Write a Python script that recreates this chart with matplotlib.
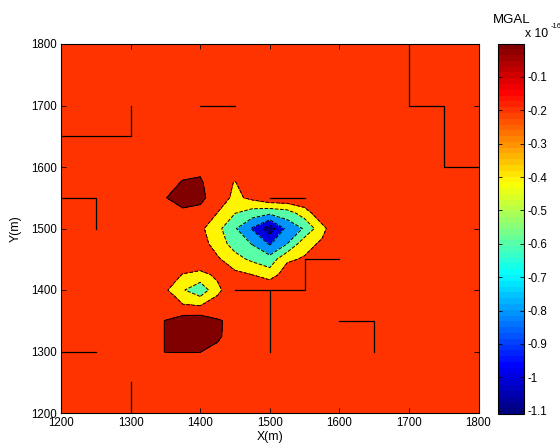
import numpy as np
import matplotlib
matplotlib.use("Agg")
import matplotlib.pyplot as plt
from matplotlib.colors import LinearSegmentedColormap, Normalize
from matplotlib.cm import ScalarMappable

plt.rcParams['font.family'] = ['Liberation Sans', 'DejaVu Sans']

# survey nodes (m): 50 m outside, 25 m over the anomalies
x_nodes = [1200, 1250, 1300, 1325, 1350, 1375, 1400, 1425, 1450, 1475, 1500, 1525,
           1550, 1575, 1600, 1650, 1700, 1750, 1800]
y_nodes = [1200, 1250, 1275, 1300, 1325, 1350, 1375, 1400, 1425, 1450, 1475, 1500,
           1525, 1550, 1575, 1600, 1650, 1700, 1750, 1800]

# background level and the dense block (x 1325..1600, y 1275..1600), units 1e-16 mGal
b = -0.03
block_x0, block_y0 = 1325, 1275
grav_block = [
    [b, b, b, b, b, b, b, b, b, b, b, b],                                                   # 1275
    [b, 0.002, 0.002, 0.002, -0.02, b, b, b, b, b, b, b],                                    # 1300
    [b, 0.002, 0.08, 0.09, 0.013, -0.04, b, b, b, b, b, b],                                  # 1325
    [b, 0.002, 0.096, 0.115, 0.014, -0.036, b, b, b, b, b, b],                               # 1350
    [b, -0.06, -0.185, -0.205, -0.11, -0.04, b, b, b, b, b, b],                              # 1375
    [-0.05, -0.17, -0.38, -0.54, -0.25, -0.04, -0.02, -0.005, b, b, b, b],                   # 1400
    [b, -0.08, -0.21, -0.26, -0.16, -0.15, -0.202, -0.3, -0.1, -0.04, b, b],                 # 1425
    [b, b, b, b, -0.17, -0.33, -0.44, -0.52, -0.23, -0.18, -0.05, b],                        # 1450
    [b, b, b, -0.1, -0.3, -0.48, -0.61, -0.82, -0.6, -0.267, -0.17, b],                      # 1475
    [b, b, -0.05, -0.155, -0.343, -0.58, -0.82, -1.11, -0.74, -0.58, -0.26, b],              # 1500
    [b, b, b, -0.05, -0.205, -0.395, -0.5, -0.56, -0.5, -0.3, -0.06, b],                     # 1525
    [b, -0.005, 0.06, 0.04, -0.085, -0.25, -0.15, b, b, b, b, b],                            # 1550
    [b, b, 0.005, 0.02, -0.1, -0.21, -0.05, b, b, b, b, b],                                  # 1575
    [b, b, b, -0.035, b, b, b, b, b, b, b, b],                                               # 1600
]

contour_levels = [-1.0, -0.8, -0.6, -0.4, -0.2, 0.0]

# zero-difference traces left by the solver (same colour both sides)
trace_x = [[1200, 1300, 1300], [1400, 1450], [1700, 1700, 1750, 1750, 1800],
           [1200, 1250, 1250], [1500, 1550], [1600, 1550, 1550, 1450],
           [1500, 1500], [1600, 1650, 1650], [1200, 1250], [1300, 1300]]
trace_y = [[1650, 1650, 1700], [1700, 1700], [1800, 1700, 1700, 1600, 1600],
           [1550, 1550, 1500], [1550, 1550], [1450, 1450, 1400, 1400],
           [1400, 1300], [1350, 1350, 1300], [1300, 1300], [1200, 1250]]

cbar_ticks = [-1.1, -1.0, -0.9, -0.8, -0.7, -0.6, -0.5, -0.4, -0.3, -0.2, -0.1]
cbar_labels = ['-1.1', '-1', '-0.9', '-0.8', '-0.7', '-0.6', '-0.5', '-0.4', '-0.3', '-0.2', '-0.1']

# matlab-style jet, 64 colours
jet = LinearSegmentedColormap.from_list(
    'mjet',
    [(0.0, (0, 0, 0.5)), (0.125, (0, 0, 1)), (0.375, (0, 1, 1)),
     (0.625, (1, 1, 0)), (0.875, (1, 0, 0)), (1.0, (0.5, 0, 0))], N=64)

# assemble the full grid
Z = np.full((len(y_nodes), len(x_nodes)), b)
blk = np.array(grav_block)
i0 = x_nodes.index(block_x0)
j0 = y_nodes.index(block_y0)
Z[j0:j0 + blk.shape[0], i0:i0 + blk.shape[1]] = blk
X, Y = np.meshgrid(x_nodes, y_nodes)

zmin, zmax = Z.min(), Z.max()
norm = Normalize(vmin=zmin, vmax=contour_levels[-1])
fill_levels = [zmin] + contour_levels + [zmax]
band_colors = [jet(norm(v)) for v in [zmin] + contour_levels]

fig = plt.figure(figsize=(5.6, 4.46), dpi=100)
ax = fig.add_axes([61 / 560, 1 - 413 / 446, 417.5 / 560, 369 / 446])
ax.contourf(X, Y, Z, levels=fill_levels, colors=band_colors)
ax.contour(X, Y, Z, levels=contour_levels, colors='k', linewidths=0.7)
for tx, ty in zip(trace_x, trace_y):
    ax.plot(tx, ty, color='k', lw=0.9)

ax.set_xlim(1200, 1800)
ax.set_ylim(1200, 1800)
ax.set_xticks([1200, 1300, 1400, 1500, 1600, 1700, 1800])
ax.set_yticks([1200, 1300, 1400, 1500, 1600, 1700, 1800])
ax.tick_params(direction='in', top=True, right=True, length=3.5, width=0.6,
               labelsize=8.3, pad=3)
for s in ax.spines.values():
    s.set_linewidth(0.8)
ax.set_xlabel('X(m)', fontsize=8.8, labelpad=1.5)
ax.set_ylabel('Y(m)', fontsize=8.8, labelpad=7)

cax = fig.add_axes([498.3 / 560, 1 - 414 / 446, 26 / 560, 370.5 / 446])
cb = fig.colorbar(ScalarMappable(norm=norm, cmap=jet), cax=cax, ticks=cbar_ticks)
cb.ax.set_yticklabels(cbar_labels)
cb.ax.tick_params(direction='in', left=True, right=True, length=3, width=0.6,
                  labelsize=8.3, pad=2)
cb.outline.set_linewidth(0.8)

fig.text(511.5 / 560, 1 - 22.7 / 446, 'MGAL', fontsize=9.5, ha='center', va='baseline')
fig.text(525 / 560, 1 - 37 / 446, 'x 10', fontsize=8.8, ha='left', va='baseline')
fig.text(550.5 / 560, 1 - 28 / 446, '-16', fontsize=5.5, ha='left', va='baseline')

fig.savefig('out.png', dpi=100)
